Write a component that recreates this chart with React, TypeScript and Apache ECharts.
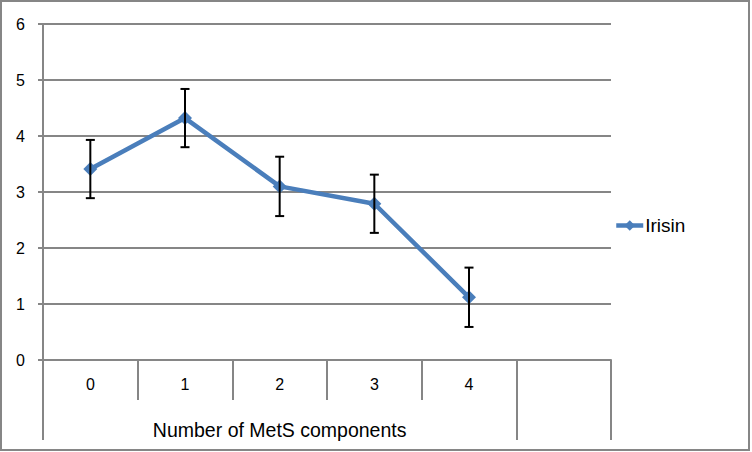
import React, { useEffect, useRef } from "react";
import * as echarts from "echarts";

const categories = ["0", "1", "2", "3", "4", ""];
const irisin = [3.41, 4.32, 3.1, 2.79, 1.12];
const irisinError = [0.52, 0.52, 0.53, 0.52, 0.53];
const yTicks = [0, 1, 2, 3, 4, 5, 6];
const groupLabel = "Number of MetS components";

const GREY = "#868686";
const BLUE = "#4a7ebb";
const FONT = "Liberation Sans";

export default function App() {
  const ref = useRef<HTMLDivElement>(null);
  useEffect(() => {
    if (!ref.current) return;
    const chart = echarts.init(ref.current, null, { renderer: "svg" });
    const errData = irisin.map((v, i) => [i, v - irisinError[i], v + irisinError[i]]);
    chart.setOption({
      animation: false,
      backgroundColor: "#ffffff",
      textStyle: { fontFamily: FONT, color: "#000" },
      graphic: [
        {
          type: "rect",
          shape: { x: 1, y: 1, width: 748, height: 449 },
          style: { fill: "none", stroke: GREY, lineWidth: 2 },
          silent: true,
        },
      ],
      grid: { left: 43, right: 141, top: 24, bottom: 92 },
      legend: {
        left: 614,
        top: 216,
        padding: 0,
        itemWidth: 27,
        itemHeight: 13,
        lineStyle: { width: 4.5, color: BLUE },
        textStyle: { fontFamily: FONT, fontSize: 19, color: "#000", padding: [0, 0, 0, -3] },
        data: ["Irisin"],
      },
      xAxis: [
        {
          type: "category",
          data: categories,
          boundaryGap: true,
          axisLine: { show: true, lineStyle: { color: GREY, width: 2 } },
          axisTick: { show: true, interval: 0, length: 40, lineStyle: { color: GREY, width: 2 } },
          axisLabel: { interval: 0, margin: 16, fontSize: 16, color: "#000", fontFamily: FONT },
          splitLine: { show: false },
        },
        {
          type: "value",
          min: 0,
          max: 6,
          position: "bottom",
          offset: 40,
          axisLine: { show: false },
          axisTick: {
            show: true,
            length: 40,
            customValues: [0, 5, 6],
            lineStyle: { color: GREY, width: 2 },
          },
          axisLabel: {
            show: true,
            customValues: [2.5],
            formatter: () => groupLabel,
            margin: 20,
            fontSize: 19.5,
            color: "#000",
            fontFamily: FONT,
          },
          splitLine: { show: false },
        },
      ],
      yAxis: {
        type: "value",
        min: yTicks[0],
        max: yTicks[yTicks.length - 1],
        interval: 1,
        axisLine: { show: true, lineStyle: { color: GREY, width: 2 } },
        axisTick: { show: true, length: 5, lineStyle: { color: GREY, width: 2 } },
        axisLabel: { margin: 18, fontSize: 16, color: "#000", fontFamily: FONT },
        splitLine: { show: true, lineStyle: { color: GREY, width: 2 } },
      },
      series: [
        {
          name: "Irisin",
          type: "line",
          data: irisin,
          xAxisIndex: 0,
          symbol: "diamond",
          symbolSize: 14,
          lineStyle: { color: BLUE, width: 4.5 },
          itemStyle: { color: BLUE },
          z: 3,
        },
        {
          name: "err",
          type: "custom",
          xAxisIndex: 0,
          data: errData,
          z: 4,
          renderItem: (params: any, api: any) => {
            const x = api.value(0);
            const lo = api.coord([x, api.value(1)]);
            const hi = api.coord([x, api.value(2)]);
            const hw = 4.5;
            const style = { stroke: "#000", lineWidth: 2 };
            return {
              type: "group",
              children: [
                { type: "line", shape: { x1: lo[0], y1: lo[1], x2: hi[0], y2: hi[1] }, style },
                { type: "line", shape: { x1: lo[0] - hw, y1: lo[1], x2: lo[0] + hw, y2: lo[1] }, style },
                { type: "line", shape: { x1: hi[0] - hw, y1: hi[1], x2: hi[0] + hw, y2: hi[1] }, style },
              ],
            };
          },
        },
      ],
    });
    return () => chart.dispose();
  }, []);
  return (
    <div
      ref={ref}
      style={{ position: "fixed", left: 0, top: 0, width: 752, height: 452 }}
    />
  );
}
